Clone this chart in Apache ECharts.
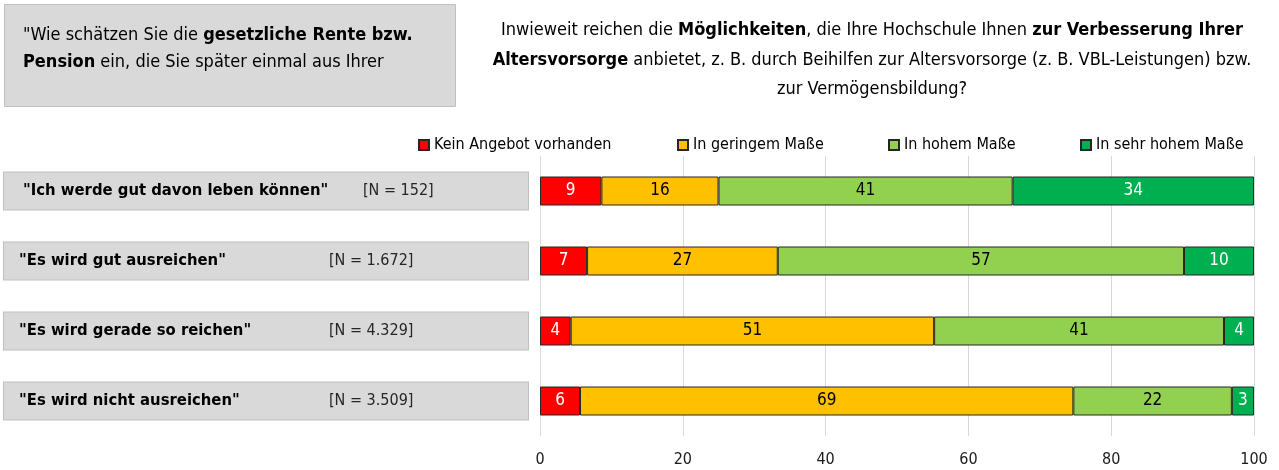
<!DOCTYPE html>
<html>
<head>
<meta charset="utf-8">
<script src="https://cdn.jsdelivr.net/npm/echarts@6/dist/echarts.min.js"></script>
<style>
  html, body { margin: 0; padding: 0; background: #fff; }
  #chart { width: 1279px; height: 470px; }
</style>
</head>
<body>
<div id="chart"></div>
<script>
// Answer groups (rows, top to bottom) and their sample sizes
const categories = [
  '"Ich werde gut davon leben können"',
  '"Es wird gut ausreichen"',
  '"Es wird gerade so reichen"',
  '"Es wird nicht ausreichen"'
];
const sampleSizes = ['[N = 152]', '[N = 1.672]', '[N = 4.329]', '[N = 3.509]'];

// Response shares in percent per row
const seriesNames = ['Kein Angebot vorhanden', 'In geringem Maße', 'In hohem Maße', 'In sehr hohem Maße'];
const keinAngebot   = [8.6, 6.6, 4.3, 5.6];
const geringemMasse = [16.4, 26.7, 50.9, 69.1];
const hohemMasse    = [41.2, 56.9, 40.6, 22.2];
const sehrHohemMasse = [33.8, 9.8, 4.2, 3.1];

const xTicks = [0, 20, 40, 60, 80, 100];

const FONT = '"Liberation Sans Narrow", "DejaVu Sans Condensed", "Arial Narrow", sans-serif';
const colors = ['#FF0000', '#FFC000', '#92D050', '#00B050'];
const labelColors = ['#ffffff', '#000000', '#000000', '#ffffff'];
const values = [keinAngebot, geringemMasse, hohemMasse, sehrHohemMasse];
const legendLeft = [418, 677, 888, 1080];

const chart = echarts.init(document.getElementById('chart'), null, { renderer: 'canvas' });

const series = seriesNames.map((name, i) => ({
  name,
  type: 'bar',
  stack: 'total',
  barWidth: 29,
  data: values[i],
  itemStyle: { color: colors[i], borderColor: '#262626', borderWidth: 1 },
  label: {
    show: true,
    position: 'inside',
    color: labelColors[i],
    fontFamily: FONT,
    fontSize: 17,
    formatter: p => String(Math.round(p.value))
  },
  emphasis: { disabled: true }
}));

const legends = seriesNames.map((name, i) => ({
  data: [name],
  left: legendLeft[i],
  top: 137,
  itemWidth: 10,
  itemHeight: 10,
  icon: 'rect',
  padding: 0,
  selectedMode: false,
  textStyle: { fontFamily: FONT, fontSize: 16, color: '#000' }
}));

chart.setOption({
  animation: false,
  legend: legends,
  grid: { left: 540, right: 25, top: 156, bottom: 34, containLabel: false },
  xAxis: {
    type: 'value',
    min: xTicks[0],
    max: xTicks[xTicks.length - 1],
    interval: 20,
    axisLine: { show: false },
    axisTick: { show: false },
    splitLine: { show: true, lineStyle: { color: '#d9d9d9', width: 1 } },
    axisLabel: { fontFamily: FONT, fontSize: 16, color: '#1a1a1a', margin: 16 }
  },
  yAxis: {
    type: 'category',
    data: categories,
    inverse: true,
    axisLine: { show: false },
    axisTick: { show: false },
    axisLabel: {
      margin: 12,
      backgroundColor: '#d9d9d9',
      borderColor: '#bfbfbf',
      borderWidth: 1,
      height: 37,
      formatter: (value, idx) => {
        const k = idx === 0 ? 'a' : 'b';
        return `{s${k}| }{q${k}|${value}}{n${k}|${sampleSizes[idx]}}`;
      },
      rich: {
        sa: { width: 19, lineHeight: 37, align: 'left' },
        sb: { width: 15, lineHeight: 37, align: 'left' },
        qa: { width: 340, align: 'left', fontFamily: FONT, fontSize: 16.5, fontWeight: 'bold', color: '#000', lineHeight: 37 },
        qb: { width: 310, align: 'left', fontFamily: FONT, fontSize: 16.5, fontWeight: 'bold', color: '#000', lineHeight: 37 },
        na: { width: 165, align: 'left', fontFamily: FONT, fontSize: 16, color: '#262626', lineHeight: 37 },
        nb: { width: 199, align: 'left', fontFamily: FONT, fontSize: 16, color: '#262626', lineHeight: 37 }
      }
    }
  },
  graphic: [
    {
      type: 'rect',
      shape: { x: 4.5, y: 4.5, width: 451, height: 102 },
      style: { fill: '#d9d9d9', stroke: '#bfbfbf', lineWidth: 1 },
      silent: true
    },
    {
      type: 'text',
      x: 23,
      y: 22,
      silent: true,
      style: {
        text: '{r|"Wie schätzen Sie die }{b|gesetzliche Rente bzw.}\n{b|Pension}{r| ein, die Sie später einmal aus Ihrer}',
        rich: {
          r: { fontFamily: FONT, fontSize: 18, color: '#262626', lineHeight: 27 },
          b: { fontFamily: FONT, fontSize: 18, fontWeight: 'bold', color: '#000', lineHeight: 27 }
        }
      }
    },
    {
      type: 'text',
      x: 872,
      y: 16,
      silent: true,
      style: {
        text: '{r|Inwieweit reichen die }{b|Möglichkeiten}{r|, die Ihre Hochschule Ihnen }{b|zur Verbesserung Ihrer}\n' +
              '{b|Altersvorsorge}{r| anbietet, z. B. durch Beihilfen zur Altersvorsorge (z. B. VBL-Leistungen) bzw.}\n' +
              '{r|zur Vermögensbildung?}',
        align: 'center',
        rich: {
          r: { fontFamily: FONT, fontSize: 18, color: '#262626', lineHeight: 29.5 },
          b: { fontFamily: FONT, fontSize: 18, fontWeight: 'bold', color: '#000', lineHeight: 29.5 }
        }
      }
    }
  ],
  series
});
</script>
</body>
</html>
